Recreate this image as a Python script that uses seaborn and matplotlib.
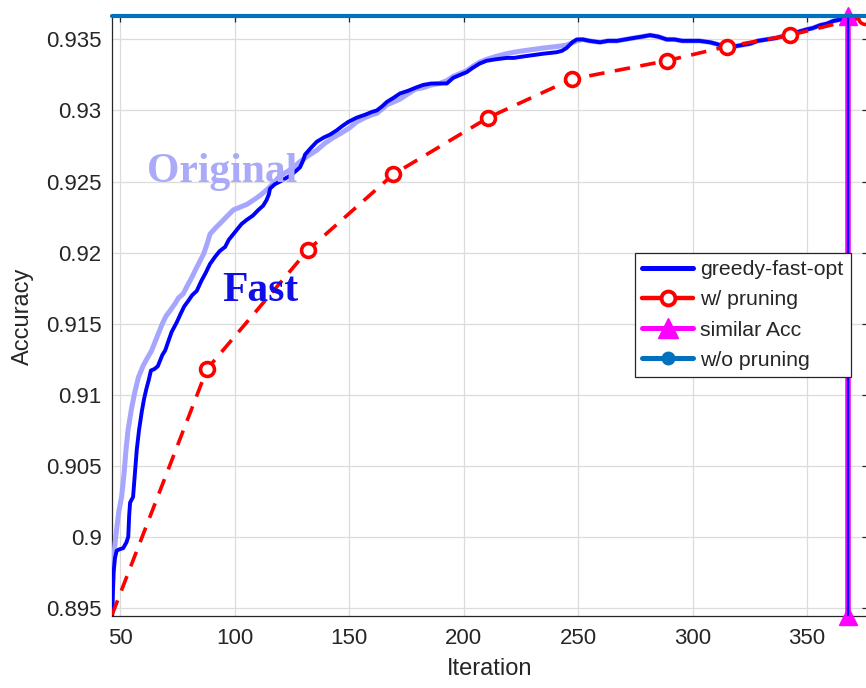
import numpy as np
import pandas as pd
import matplotlib
matplotlib.use("Agg")
import matplotlib.pyplot as plt
from matplotlib.lines import Line2D
import seaborn as sns

# ---------------- data ----------------
fast_x = [46.5, 47.2, 47.8, 48.5, 49.5, 51.4, 52.8, 53.6, 54.0, 54.4, 55.7, 56.5, 57.3, 58.3,
          59.5, 60.5, 61.5, 62.5, 63.5, 65.0, 66.5, 67.5, 68.5, 69.7, 71.0, 72.5, 74.8, 76.5,
          78.0, 79.8, 81.5, 83.5, 85.5, 87.5, 89.3, 91.5, 93.5, 95.9, 97.5, 99.0, 101.0, 103.0,
          105.3, 108.0, 110.4, 112.5, 114.0, 115.0, 115.5, 117.5, 119.9, 122.0, 124.2, 126.5,
          128.6, 130.0, 130.8, 133.0, 135.9, 139.0, 141.7, 144.6, 147.0, 149.7, 153.4, 157.0,
          160.0, 162.1, 164.5, 166.5, 169.5, 172.3, 176.0, 179.0, 182.4, 186.0, 189.5, 192.7,
          195.5, 198.5, 201.4, 204.0, 207.0, 210.1, 214.0, 218.8, 222.0, 226.0, 230.4, 235.0,
          240.6, 243.0, 245.0, 247.5, 249.4, 252.0, 255.0, 259.6, 263.0, 267.0, 270.5, 274.2,
          278.0, 281.4, 285.0, 288.7, 292.0, 295.5, 298.9, 303.0, 307.6, 310.0, 312.0, 315.0,
          317.8, 321.5, 325.1, 328.5, 332.4, 336.5, 341.1, 345.5, 349.8, 352.5, 355.7, 358.5,
          361.5, 364.5, 368.0]
fast_y = [0.8944, 0.8975, 0.8985, 0.8990, 0.8991, 0.8992, 0.8996, 0.9000, 0.9015, 0.9024,
          0.9028, 0.9045, 0.9061, 0.9075, 0.9088, 0.9097, 0.9104, 0.9110, 0.9117, 0.9118,
          0.9120, 0.9124, 0.9128, 0.9131, 0.9137, 0.9144, 0.9151, 0.9157, 0.9162, 0.9166,
          0.9170, 0.9173, 0.9180, 0.9186, 0.9192, 0.9197, 0.9201, 0.9204, 0.9209, 0.9212,
          0.9216, 0.9220, 0.9223, 0.9226, 0.9230, 0.9233, 0.9237, 0.9241, 0.9245, 0.9248,
          0.9250, 0.9252, 0.9254, 0.9257, 0.9260, 0.9265, 0.9269, 0.9273, 0.9278, 0.9281,
          0.9283, 0.9286, 0.9289, 0.9292, 0.9295, 0.9297, 0.9299, 0.9300, 0.9303, 0.9306,
          0.9309, 0.9312, 0.9314, 0.9316, 0.9318, 0.9319, 0.9319, 0.9319, 0.9323, 0.9325,
          0.9327, 0.9330, 0.9333, 0.9335, 0.9336, 0.9337, 0.9337, 0.9338, 0.9339, 0.9340,
          0.9341, 0.9342, 0.9344, 0.9348, 0.9350, 0.9350, 0.9349, 0.9348, 0.9349, 0.9349,
          0.9350, 0.9351, 0.9352, 0.9353, 0.9352, 0.9350, 0.9350, 0.9349, 0.9349, 0.9349,
          0.9348, 0.9347, 0.9346, 0.9345, 0.9345, 0.9346, 0.9347, 0.9349, 0.9350, 0.9351,
          0.9353, 0.9355, 0.9357, 0.9358, 0.9360, 0.9361, 0.9363, 0.9364, 0.9365]

orig_x = [46.5, 47.0, 47.8, 48.5, 49.5, 50.7, 51.8, 52.6, 53.5, 55.0, 56.5, 58.0, 60.0, 62.0,
          63.8, 66.0, 68.5, 70.0, 71.8, 74.0, 75.5, 77.6, 79.5, 81.5, 83.0, 84.9, 86.5, 88.0,
          89.3, 91.5, 94.0, 97.0, 99.5, 102.5, 105.5, 108.3, 111.0, 114.0, 116.5, 119.9, 122.0,
          125.0, 128.6, 132.0, 135.9, 139.5, 143.2, 146.5, 150.4, 153.4, 157.0, 160.0, 162.1,
          164.5, 166.5, 169.5, 172.3, 176.0, 179.0, 182.4, 186.0, 189.5, 192.7, 195.5, 198.5,
          201.4, 204.0, 207.0, 210.1, 214.0, 218.8, 222.0, 226.0, 230.4, 235.0, 240.6, 245.0,
          249.4, 252.0, 255.0, 259.6, 263.0, 267.0, 270.5, 274.2, 278.0, 281.4, 285.0, 288.7,
          292.0, 295.5, 298.9, 303.0, 307.6, 310.0, 312.0, 315.0, 317.8, 321.5, 325.1, 328.5,
          332.4, 336.5, 341.1, 345.5, 349.8, 352.5, 355.7, 358.5, 361.5, 364.5, 368.0]
orig_y = [0.8944, 0.8980, 0.8995, 0.9005, 0.9018, 0.9028, 0.9045, 0.9061, 0.9075, 0.9090,
          0.9102, 0.9112, 0.9120, 0.9126, 0.9131, 0.9140, 0.9150, 0.9155, 0.9159, 0.9164,
          0.9168, 0.9171, 0.9177, 0.9183, 0.9188, 0.9194, 0.9199, 0.9206, 0.9213, 0.9217,
          0.9221, 0.9226, 0.9230, 0.9232, 0.9234, 0.9237, 0.9240, 0.9244, 0.9248, 0.9254,
          0.9256, 0.9259, 0.9264, 0.9268, 0.9272, 0.9277, 0.9281, 0.9284, 0.9288, 0.9292,
          0.9295, 0.9297, 0.9298, 0.9301, 0.9304, 0.9306, 0.9308, 0.9312, 0.9315, 0.9316,
          0.9318, 0.9319, 0.9321, 0.9324, 0.9326, 0.9328, 0.9331, 0.9334, 0.9336, 0.9338,
          0.9340, 0.9341, 0.9342, 0.9343, 0.9344, 0.9345, 0.9346, 0.9349, 0.9350, 0.9349,
          0.9348, 0.9349, 0.9349, 0.9350, 0.9351, 0.9352, 0.9353, 0.9352, 0.9350, 0.9350,
          0.9349, 0.9349, 0.9349, 0.9348, 0.9347, 0.9346, 0.9345, 0.9345, 0.9346, 0.9347,
          0.9349, 0.9350, 0.9351, 0.9353, 0.9355, 0.9357, 0.9358, 0.9360, 0.9361, 0.9363,
          0.9364, 0.9365]

prune_x = [46.5, 88.0, 132.2, 169.3, 210.8, 247.2, 288.7, 314.9, 342.6, 375.3]
prune_y = [0.8945, 0.9118, 0.9202, 0.9255, 0.9295, 0.9322, 0.9335, 0.9345, 0.9353, 0.9366]

similar_x = [368.0, 368.0]
similar_y = [0.89442, 0.93665]

nopr_x = [46.5, 376.6]
nopr_y = [0.93665, 0.93665]

x_ticks = [50, 100, 150, 200, 250, 300, 350]
y_ticks = [0.895, 0.9, 0.905, 0.91, 0.915, 0.92, 0.925, 0.93, 0.935]
y_tick_labels = ["0.895", "0.9", "0.905", "0.91", "0.915", "0.92", "0.925", "0.93", "0.935"]
legend_labels = ["greedy-fast-opt", "w/ pruning", "similar Acc", "w/o pruning"]

# ---------------- style ----------------
sns.set_theme(style="white")
plt.rcParams["font.family"] = ["Liberation Sans", "DejaVu Sans"]
TXT = "#262626"
BLUE = "#0000FF"
LBLUE = "#a6a6ff"
MBLUE = "#0072BD"
MAG = "#FF00FF"

fig = plt.figure(figsize=(8.66, 6.88), dpi=100)
ax = fig.add_axes([112 / 866, 1 - 616 / 688, (868 - 112) / 866, 600 / 688])

ax.set_xlim(46.5, 376.6)
ax.set_ylim(0.89442, 0.93665)

# Original (light blue)
sns.lineplot(x=orig_x, y=orig_y, ax=ax, color=LBLUE, linewidth=3.6, estimator=None,
             sort=False, zorder=3)
# Fast (greedy-fast-opt)
sns.lineplot(x=fast_x, y=fast_y, ax=ax, color=BLUE, linewidth=2.8, estimator=None,
             sort=False, zorder=4)
# w/ pruning
sns.lineplot(x=prune_x, y=prune_y, ax=ax, color="red", linewidth=2.6, estimator=None,
             sort=False, marker="o", markersize=10, markerfacecolor="white",
             markeredgecolor="red", markeredgewidth=2.6,
             markevery=list(range(1, len(prune_x))), zorder=5)
ax.lines[-1].set_dashes((4.3, 2.9))
# similar Acc (vertical)
sns.lineplot(x=similar_x, y=similar_y, ax=ax, color=MAG, linewidth=4.0, estimator=None,
             sort=False, marker="^", markersize=13, markerfacecolor=MAG,
             markeredgecolor=MAG, markeredgewidth=1, zorder=6)
for ln in ax.lines[-1:]:
    ln.set_clip_on(False)
sns.lineplot(x=similar_x, y=similar_y, ax=ax, color=BLUE, linewidth=1.6, estimator=None,
             sort=False, zorder=7)
# w/o pruning (top horizontal)
sns.lineplot(x=nopr_x, y=nopr_y, ax=ax, color=MBLUE, linewidth=3.0, estimator=None,
             sort=False, zorder=8)
ax.lines[-1].set_clip_on(False)

# ticks, grid, spines
ax.set_xticks(x_ticks)
ax.set_xticklabels([str(v) for v in x_ticks])
ax.set_yticks(y_ticks)
ax.set_yticklabels(y_tick_labels)
ax.grid(True, color="#dcdcdc", linewidth=0.9)
ax.set_axisbelow(True)
ax.tick_params(direction="in", top=True, right=True, length=4.5, width=0.9,
               colors=TXT, labelsize=16, labelcolor=TXT)
ax.tick_params(axis="y", pad=7.5)
ax.tick_params(axis="x", pad=9)
for s in ax.spines.values():
    s.set_color(TXT)
    s.set_linewidth(0.9)

ax.set_xlabel("Iteration", fontsize=17, color=TXT, labelpad=6)
ax.set_ylabel("Accuracy", fontsize=17, color=TXT, labelpad=9)

# annotations
ax.text(61.8, 0.92496, "Original", family=["Liberation Serif", "DejaVu Serif"],
        fontweight="bold", fontsize=30, color="#aaaaf8", ha="left", va="baseline", zorder=9)
ax.text(94.5, 0.91659, "Fast", family=["Liberation Serif", "DejaVu Serif"],
        fontweight="bold", fontsize=30, color="#1010e6", ha="left", va="baseline", zorder=9)

# legend
handles = [
    Line2D([], [], color=BLUE, linewidth=3.6),
    Line2D([], [], color="red", linewidth=3.2, marker="o", markersize=10,
           markerfacecolor="white", markeredgecolor="red", markeredgewidth=2.8),
    Line2D([], [], color=MAG, linewidth=3.6, marker="^", markersize=14,
           markerfacecolor=MAG, markeredgecolor=MAG),
    Line2D([], [], color=MBLUE, linewidth=3.6, marker="o", markersize=9,
           markerfacecolor=MBLUE, markeredgecolor=MBLUE),
]
leg = fig.legend(handles, legend_labels, loc="upper left",
                 bbox_to_anchor=(635 / 866, 1 - 253 / 688), bbox_transform=fig.transFigure,
                 fontsize=15.3, frameon=True, fancybox=False, framealpha=1,
                 edgecolor=TXT, facecolor="white", borderpad=0.35, labelspacing=0.52,
                 handlelength=2.4, handletextpad=0.3, borderaxespad=0)
leg.get_frame().set_linewidth(0.9)
for t in leg.get_texts():
    t.set_color(TXT)
leg.set_zorder(20)

fig.savefig("out.png", dpi=100)
